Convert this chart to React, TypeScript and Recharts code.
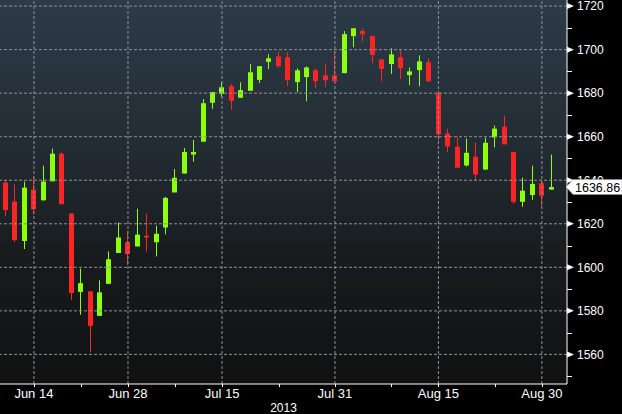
import { BarChart, Bar, XAxis, YAxis, ReferenceLine } from "recharts";

const dates = [
  "Jun 11", "Jun 12", "Jun 13", "Jun 14", "Jun 17", "Jun 18", "Jun 19", "Jun 20", "Jun 21",
  "Jun 24", "Jun 25", "Jun 26", "Jun 27", "Jun 28", "Jul 1", "Jul 2", "Jul 3", "Jul 5",
  "Jul 8", "Jul 9", "Jul 10", "Jul 11", "Jul 12", "Jul 15", "Jul 16", "Jul 17", "Jul 18",
  "Jul 19", "Jul 22", "Jul 23", "Jul 24", "Jul 25", "Jul 26", "Jul 29", "Jul 30", "Jul 31",
  "Aug 1", "Aug 2", "Aug 5", "Aug 6", "Aug 7", "Aug 8", "Aug 9", "Aug 12", "Aug 13",
  "Aug 14", "Aug 15", "Aug 16", "Aug 19", "Aug 20", "Aug 21", "Aug 22", "Aug 23", "Aug 26",
  "Aug 27", "Aug 28", "Aug 29", "Aug 30", "Sep 3",
];

const opens = [
  1638.9, 1630.2, 1612.1, 1635.7, 1630.8, 1639.5, 1652.2, 1624.7, 1588.7,
  1589.0, 1577.7, 1592.4, 1606.6, 1611.5, 1609.6, 1614.5, 1611.5, 1618.3,
  1634.4, 1643.1, 1651.8, 1657.7, 1675.6, 1679.7, 1683.2, 1677.9, 1681.1,
  1686.1, 1694.4, 1696.9, 1696.5, 1685.1, 1687.4, 1690.5, 1688.2, 1688.2,
  1689.2, 1706.2, 1708.5, 1706.2, 1695.5, 1693.4, 1696.5, 1688.3, 1690.6,
  1694.2, 1680.0, 1661.4, 1655.4, 1646.8, 1650.8, 1644.9, 1659.7, 1664.6,
  1652.9, 1630.1, 1633.2, 1638.6, 1635.7,
];

const highs = [
  1640.2, 1638.0, 1639.4, 1641.5, 1646.7, 1654.5, 1652.7, 1624.7, 1599.4,
  1589.0, 1594.0, 1607.3, 1620.6, 1616.5, 1626.9, 1624.6, 1619.1, 1632.4,
  1645.2, 1654.8, 1658.5, 1677.3, 1680.5, 1685.0, 1684.1, 1685.0, 1693.3,
  1692.4, 1697.9, 1699.2, 1698.8, 1691.4, 1692.3, 1691.4, 1693.7, 1699.2,
  1708.5, 1709.8, 1709.8, 1706.2, 1695.5, 1700.6, 1699.7, 1691.8, 1697.4,
  1696.0, 1680.0, 1663.7, 1659.8, 1659.1, 1657.2, 1659.5, 1665.1, 1669.7,
  1652.9, 1641.2, 1646.7, 1640.0, 1651.8,
];

const lows = [
  1623.5, 1611.6, 1608.4, 1624.3, 1630.6, 1639.5, 1629.0, 1585.0, 1578.2,
  1560.9, 1577.7, 1592.4, 1606.6, 1601.1, 1609.6, 1607.3, 1605.0, 1615.1,
  1634.4, 1643.1, 1648.5, 1657.7, 1672.8, 1678.3, 1672.4, 1677.9, 1681.1,
  1684.7, 1691.1, 1691.6, 1683.2, 1680.5, 1676.3, 1682.3, 1682.8, 1685.5,
  1689.2, 1701.1, 1703.8, 1693.8, 1685.5, 1688.8, 1686.5, 1683.7, 1683.2,
  1685.1, 1658.5, 1652.8, 1645.8, 1646.3, 1639.8, 1644.9, 1655.1, 1656.5,
  1629.1, 1627.8, 1631.0, 1628.2, 1635.7,
];

const closes = [
  1626.3, 1612.5, 1636.6, 1626.7, 1639.4, 1652.2, 1629.0, 1588.2, 1592.7,
  1573.1, 1588.5, 1603.7, 1613.7, 1606.1, 1615.0, 1613.7, 1615.4, 1631.9,
  1641.1, 1653.0, 1653.0, 1675.4, 1680.5, 1682.7, 1676.5, 1681.4, 1689.6,
  1692.4, 1696.0, 1692.5, 1686.0, 1690.5, 1691.8, 1685.5, 1686.0, 1685.5,
  1707.1, 1709.8, 1707.1, 1697.5, 1691.1, 1697.8, 1691.5, 1690.0, 1694.6,
  1685.5, 1661.1, 1655.5, 1645.8, 1652.6, 1642.6, 1657.2, 1663.7, 1656.5,
  1630.1, 1635.2, 1638.3, 1632.9, 1636.86,
];

const labelDates = ["Jun 14", "Jun 28", "Jul 15", "Jul 31", "Aug 15", "Aug 30"];
const minorDates = ["Jun 21", "Jul 8", "Jul 23", "Aug 8", "Aug 23"];
const priceTicks = [1560, 1580, 1600, 1620, 1640, 1660, 1680, 1700, 1720];
const minorPriceTicks = [1550, 1570, 1590, 1610, 1630, 1650, 1670, 1690, 1710];
const yearLabel = "2013";

const UP = "#8cff0a";
const DOWN = "#ff2424";
const GRID = "#8d9399";
const FONT = "'Liberation Sans', Arial, sans-serif";

const data = dates.map((date, i) => ({
  date,
  open: opens[i],
  high: highs[i],
  low: lows[i],
  close: closes[i],
  range: [lows[i], highs[i]],
}));

const lastPrice = closes[closes.length - 1];

function Candle(props: any) {
  const { x, y, width, height, payload } = props;
  if (x == null || y == null) return null;
  const { open, close, high, low } = payload;
  const color = close >= open ? UP : DOWN;
  const top = Math.min(y, y + height);
  const h = Math.abs(height);
  const k = h / (high - low || 1);
  const bodyTop = top + (high - Math.max(open, close)) * k;
  const bodyBottom = top + (high - Math.min(open, close)) * k;
  const left = Math.round(x);
  const cx = left + Math.floor(width / 2) + 0.5;
  return (
    <g>
      <line x1={cx} x2={cx} y1={top} y2={top + h} stroke={color} strokeWidth={1} />
      <rect
        x={left}
        y={bodyTop}
        width={Math.round(width)}
        height={Math.max(1.5, bodyBottom - bodyTop)}
        fill={color}
      />
    </g>
  );
}

function DateTick(props: any) {
  const { x, y, payload } = props;
  const labeled = labelDates.includes(payload.value);
  const px = Math.round(x) + 0.5;
  return (
    <g>
      <line x1={px} x2={px} y1={y} y2={y + 3} stroke="#fff" />
      {labeled && (
        <text x={x} y={y + 14} textAnchor="middle" fill="#fff" fontSize={13} fontFamily={FONT}>
          {payload.value}
        </text>
      )}
    </g>
  );
}

function PriceTick(props: any) {
  const { x, y, payload } = props;
  const v = payload.value;
  if (v === lastPrice) {
    return (
      <g>
        <polygon
          points={`${x - 1},${y} ${x + 6},${y - 7.5} ${x + 55},${y - 7.5} ${x + 55},${y + 7.5} ${x + 6},${y + 7.5}`}
          fill="#fff"
          stroke="#9a9a9a"
          strokeWidth={0.5}
        />
        <text x={x + 8} y={y} dy="0.36em" fill="#000" fontSize={12.5} fontFamily={FONT}>
          {v.toFixed(2)}
        </text>
      </g>
    );
  }
  if (v % 20 !== 0) {
    return <line x1={x} x2={x + 5} y1={Math.round(y) + 0.5} y2={Math.round(y) + 0.5} stroke="#fff" />;
  }
  return (
    <g>
      <polygon points={`${x},${y - 3} ${x + 7},${y} ${x},${y + 3}`} fill="#fff" />
      <text x={x + 10} y={y} dy="0.36em" fill="#fff" fontSize={12} fontFamily={FONT}>
        {v}
      </text>
    </g>
  );
}

export default function App() {
  return (
    <div style={{ position: "fixed", left: 0, top: 0, width: 622, height: 414, background: "#000" }}>
      <BarChart width={622} height={414} data={data} margin={{ top: 0, right: 0, bottom: 0, left: 0 }}>
        <defs>
          <linearGradient id="plotBg" x1="0" y1="0" x2="0" y2="1">
            <stop offset="0%" stopColor="#2d3b48" />
            <stop offset="40%" stopColor="#222b32" />
            <stop offset="70%" stopColor="#171a1c" />
            <stop offset="100%" stopColor="#111111" />
          </linearGradient>
        </defs>
        <rect x={0} y={0} width={567} height={384} fill="url(#plotBg)" />
        <XAxis
          dataKey="date"
          ticks={[...labelDates, ...minorDates]}
          interval={0}
          tickSize={0}
          tickMargin={0}
          tick={<DateTick />}
          height={30}
          padding={{ left: 1, right: 11 }}
          axisLine={{ stroke: "#fff" }}
          tickLine={false}
          label={{
            content: (p: any) => (
              <text
                x={p.viewBox.x + p.viewBox.width / 2}
                y={411.5}
                textAnchor="middle"
                fill="#fff"
                fontSize={12}
                fontFamily={FONT}
              >
                {yearLabel}
              </text>
            ),
          }}
        />
        <YAxis
          orientation="right"
          type="number"
          width={55}
          domain={[1546.4, 1722.8]}
          allowDataOverflow
          ticks={[...priceTicks, ...minorPriceTicks, lastPrice]}
          interval={0}
          tickSize={0}
          tickMargin={0}
          tick={<PriceTick />}
          axisLine={{ stroke: "#fff" }}
          tickLine={false}
        />
        {priceTicks.map((p) => (
          <ReferenceLine key={p} y={p} stroke={GRID} strokeDasharray="3 2" />
        ))}
        {labelDates.map((d) => (
          <ReferenceLine key={d} x={d} stroke={GRID} strokeDasharray="3 2" />
        ))}
        <Bar dataKey="range" barSize={5} shape={<Candle />} isAnimationActive={false} />
      </BarChart>
    </div>
  );
}
